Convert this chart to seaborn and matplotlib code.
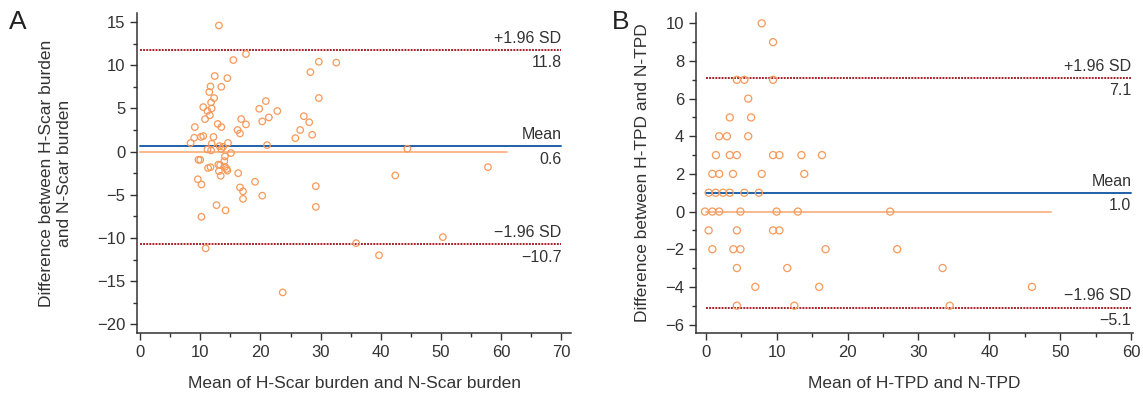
import pandas as pd
import matplotlib.pyplot as plt
import seaborn as sns
from matplotlib.ticker import MultipleLocator

# Panel A: H-Scar vs N-Scar burden (mean, difference)
scar_mean = [13.1, 15.5, 17.6, 29.7, 28.3, 12.4, 14.5, 11.7, 13.5, 11.5, 12.3, 29.7,
             11.8, 10.5, 11.9, 11.2, 20.9, 19.8, 22.8, 11.6, 10.8, 16.8, 21.4, 27.2,
             28.1, 20.3, 12.9, 13.5, 17.6, 9.1, 16.2, 16.6, 26.6, 9.0, 10.1, 10.5,
             12.2, 25.8, 28.6, 8.4, 11.9, 14.6, 21.1, 13.2, 13.8, 11.2, 11.8, 13.5,
             15.1, 14.1, 9.7, 10.0, 14.0, 13.0, 13.3, 11.3, 11.7, 14.1, 14.4, 14.5,
             13.1, 13.4, 16.3, 9.6, 10.2, 19.1, 16.6, 17.1, 29.2, 20.3, 17.1, 29.2,
             12.7, 14.2, 10.2, 10.9, 23.7, 32.6, 44.4, 57.8, 42.4, 50.3, 35.9, 39.7]
scar_diff = [14.6, 10.6, 11.3, 10.4, 9.2, 8.75, 8.5, 7.55, 7.5, 6.9, 6.2, 6.2,
             5.7, 5.15, 5.0, 4.7, 5.85, 4.96, 4.7, 4.2, 3.76, 3.77, 3.96, 4.1,
             3.4, 3.5, 3.2, 2.84, 3.15, 2.84, 2.5, 2.1, 2.5, 1.6, 1.7, 1.8,
             1.7, 1.56, 1.95, 1.0, 0.9, 1.0, 0.75, 0.64, 0.56, 0.25, 0.14, 0.3,
             -0.17, -0.56, -0.95, -0.95, -1.1, -1.5, -1.56, -1.9, -1.8, -1.76, -2.0, -2.2,
             -2.26, -2.8, -2.5, -3.2, -3.8, -3.5, -4.15, -4.6, -4.0, -5.1, -5.47, -6.4,
             -6.2, -6.8, -7.55, -11.2, -16.3, 10.3, 0.33, -1.8, -2.76, -9.9, -10.6, -12.0]

# Panel B: H-TPD vs N-TPD (mean, difference)
tpd_mean = [7.9, 9.5, 4.4, 5.45, 9.5, 6.0, 3.4, 6.4, 1.9, 3.0, 6.0,
            1.45, 3.4, 4.4, 9.5, 10.4, 13.5, 16.4,
            0.94, 1.9, 3.85, 7.9, 13.9,
            0.42, 1.4, 2.45, 3.4, 5.45, 7.5,
            -0.1, 0.94, 1.9, 4.9, 10.0, 13.0, 26.0,
            0.42, 4.4, 9.5, 10.4,
            0.94, 3.9, 4.9, 16.9, 27.0,
            4.4, 11.5, 33.4,
            7.0, 16.0, 46.0,
            4.4, 12.5, 34.4]
tpd_diff = [10, 9, 7, 7, 7, 6, 5, 5, 4, 4, 4,
            3, 3, 3, 3, 3, 3, 3,
            2, 2, 2, 2, 2,
            1, 1, 1, 1, 1, 1,
            0, 0, 0, 0, 0, 0, 0,
            -1, -1, -1, -1,
            -2, -2, -2, -2, -2,
            -3, -3, -3,
            -4, -4, -4,
            -5, -5, -5]

# limits of agreement: (upper, mean, lower)
scar_loa = [11.8, 0.6, -10.7]
tpd_loa = [7.1, 1.0, -5.1]

df_a = pd.DataFrame({'mean': scar_mean, 'diff': scar_diff})
df_b = pd.DataFrame({'mean': tpd_mean, 'diff': tpd_diff})

sns.set_style('ticks')
plt.rcParams['font.family'] = ['Liberation Sans', 'DejaVu Sans']

fig = plt.figure(figsize=(11.43, 3.93), dpi=100)
ax_a = fig.add_axes([0.1199, 0.1527, 0.3797, 0.8143])
ax_b = fig.add_axes([0.609, 0.1527, 0.382, 0.8143])

point_col = '#F7995A'
fit_col = '#F9B98D'
mean_col = '#2060A8'
sd_col = '#A8232A'
text_col = '#333333'


def bland_altman(ax, df, loa, xmax, fit_end, xlim, ylim, s):
    up, mid, lo = loa
    ax.plot([0, xmax], [up, up], color=sd_col, lw=1.4, ls=(0, (1, 0.6)))
    ax.plot([0, xmax], [lo, lo], color=sd_col, lw=1.4, ls=(0, (1, 0.6)))
    ax.plot([0, xmax], [mid, mid], color=mean_col, lw=1.4)
    ax.plot([0, fit_end], [0, 0], color=fit_col, lw=1.4)
    sns.scatterplot(data=df, x='mean', y='diff', ax=ax, s=s, marker='o',
                    facecolor='none', edgecolor=point_col, linewidth=0.9, zorder=3)
    for val, name in [(up, '+1.96 SD'), (mid, 'Mean'), (lo, '\u22121.96 SD')]:
        ax.annotate(name, (xmax, val), xytext=(0, 3), textcoords='offset points',
                    ha='right', va='bottom', fontsize=11.5, color=text_col)
        ax.annotate(f'{val:.1f}'.replace('-', '\u2212'), (xmax, val), xytext=(0, -4),
                    textcoords='offset points', ha='right', va='top',
                    fontsize=11.5, color=text_col)
    ax.set_xlim(xlim)
    ax.set_ylim(ylim)
    sns.despine(ax=ax)
    for sp in ['left', 'bottom']:
        ax.spines[sp].set_color('#333333')
        ax.spines[sp].set_linewidth(1.1)
    ax.tick_params(which='major', length=5, width=1, color='#333333',
                   labelsize=12, labelcolor=text_col)
    ax.tick_params(which='minor', length=3, width=1, color='#333333')


bland_altman(ax_a, df_a, scar_loa, 70, 60.9, (-0.5, 71.6), (-21, 16.05), 22)
ax_a.xaxis.set_major_locator(MultipleLocator(10))
ax_a.xaxis.set_minor_locator(MultipleLocator(5))
ax_a.yaxis.set_major_locator(MultipleLocator(5))
ax_a.yaxis.set_minor_locator(MultipleLocator(2.5))
ax_a.set_xlabel('Mean of H-Scar burden and N-Scar burden', fontsize=12.5,
                color=text_col, labelpad=12)
ax_a.set_ylabel('Difference between H-Scar burden\nand N-Scar burden', fontsize=12.5,
                color=text_col, labelpad=18)

bland_altman(ax_b, df_b, tpd_loa, 60, 48.7, (-1.35, 60.2), (-6.45, 10.55), 26)
ax_b.xaxis.set_major_locator(MultipleLocator(10))
ax_b.xaxis.set_minor_locator(MultipleLocator(5))
ax_b.yaxis.set_major_locator(MultipleLocator(2))
ax_b.yaxis.set_minor_locator(MultipleLocator(1))
ax_b.set_xlabel('Mean of H-TPD and N-TPD', fontsize=12.5, color=text_col, labelpad=12)
ax_b.set_ylabel('Difference between H-TPD and N-TPD', fontsize=12.5, color=text_col,
                labelpad=11)

fig.text(0.008, 0.925, 'A', fontsize=19, color='#222222')
fig.text(0.535, 0.925, 'B', fontsize=19, color='#222222')

fig.savefig('out.png', dpi=100)
